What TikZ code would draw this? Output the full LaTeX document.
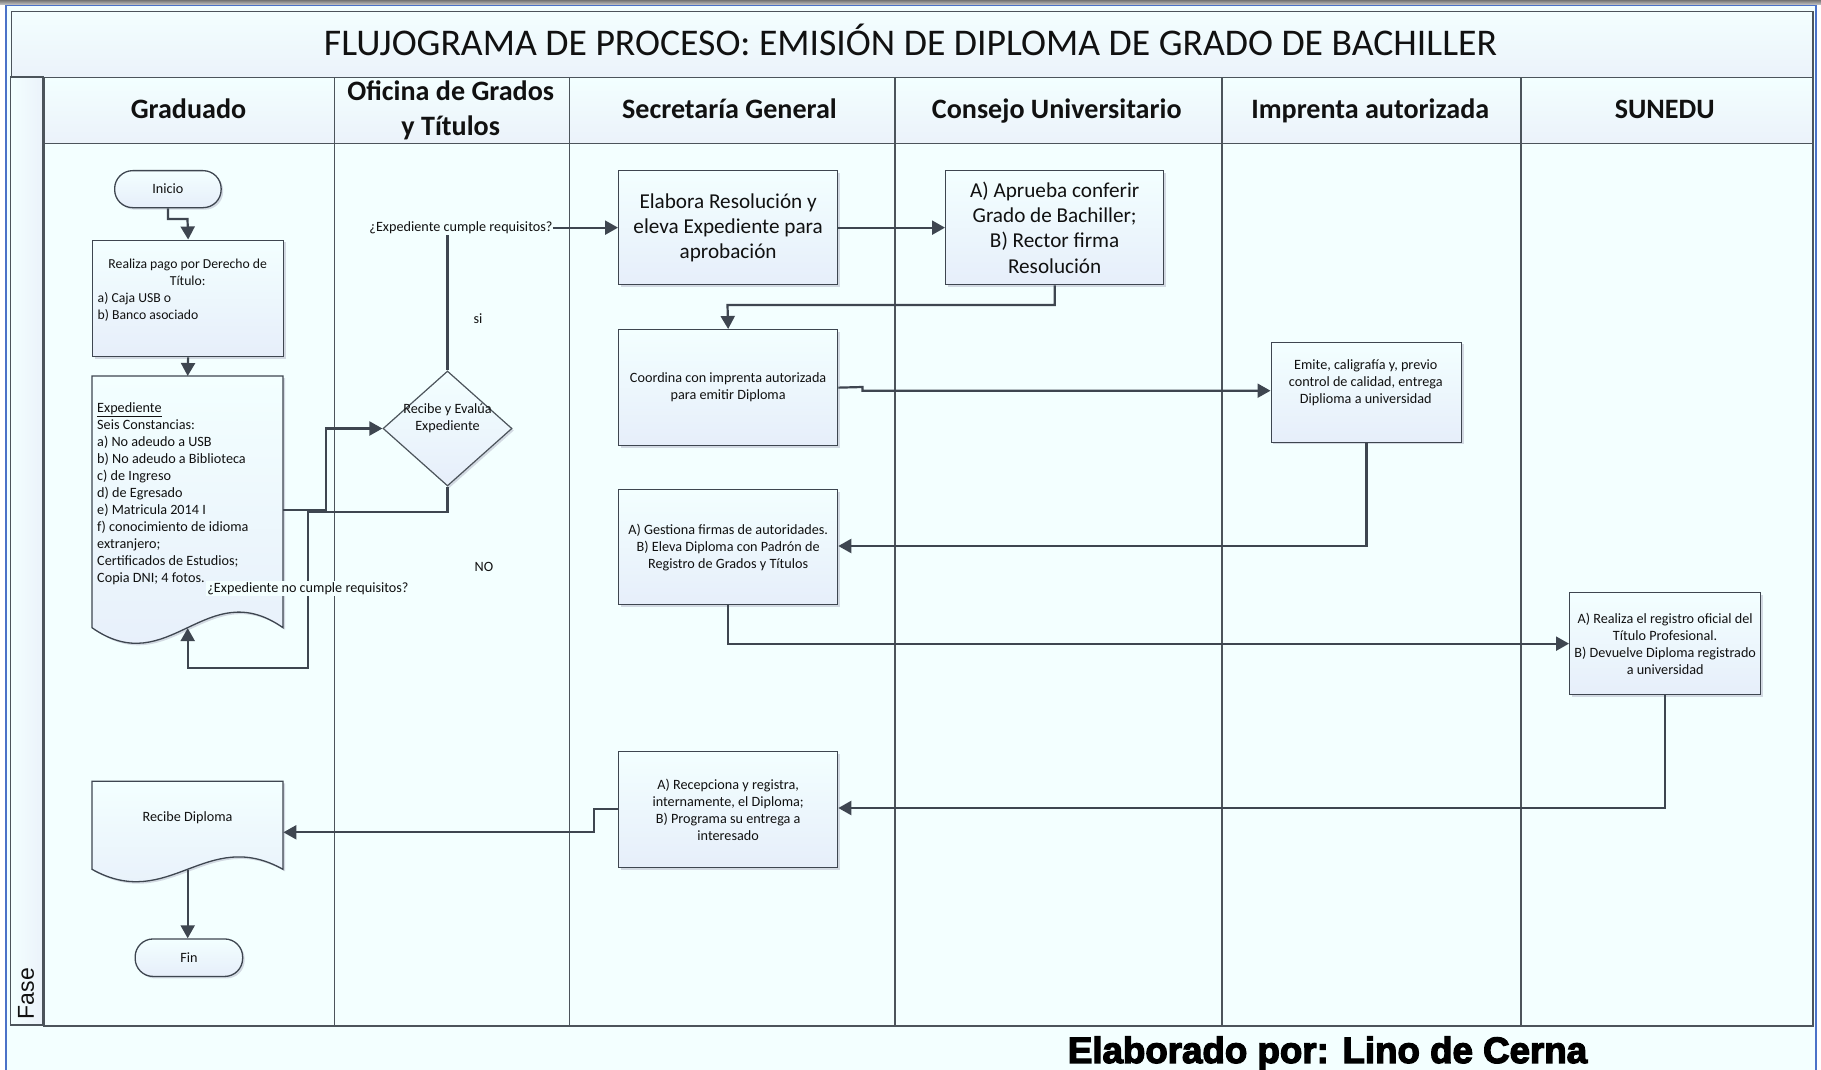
\documentclass[tikz,border=0pt]{standalone}
\usepackage{fontspec}
\setmainfont{Carlito}
\newfontfamily\fasefont{Liberation Sans}
\newfontfamily\footfont[FakeBold=3.5]{Liberation Sans Bold}
\usetikzlibrary{arrows.meta,shapes.geometric,shadows,calc}
\definecolor{bgc}{HTML}{F3FFFF}
\definecolor{boxbot}{HTML}{E6EEFA}
\definecolor{bandbot}{HTML}{EBF2FA}
\definecolor{linec}{HTML}{4C545B}
\definecolor{connc}{HTML}{3E4650}
\definecolor{framec}{HTML}{4A72C8}
\definecolor{shadc}{HTML}{C4CAD6}
\definecolor{txtc}{HTML}{111111}
\tikzset{
  x=1pt,y=-1pt,
  every node/.style={text=txtc,inner sep=0pt},
  band/.style={draw=linec,line width=1.5pt,shade,top color=bgc,middle color=bgc,bottom color=bandbot},
  lanecell/.style={draw=linec,line width=1.5pt,fill=bgc},
  headcell/.style={band,font=\fontsize{28.1}{35}\selectfont\bfseries,align=center,minimum height=66pt,anchor=north west},
  flowbox/.style={draw=connc,line width=1.3pt,shade,top color=bgc,middle color=bgc,bottom color=boxbot,
    drop shadow={shadow xshift=2pt,shadow yshift=-2pt,fill=shadc,opacity=.7},align=center,anchor=north west},
  small/.style={font=\fontsize{14.2}{17}\selectfont,align=center},
  large/.style={font=\fontsize{21.2}{25.3}\selectfont,align=center},
  terminal/.style={flowbox,rounded corners=18pt,small},
  conn/.style={draw=connc,line width=2.2pt,-{Triangle[length=13pt,width=14pt]}},
  connplain/.style={draw=connc,line width=2.2pt},
  docfill/.style={draw=connc,line width=1.3pt,shade,top color=bgc,middle color=bgc,bottom color=boxbot,
    drop shadow={shadow xshift=2pt,shadow yshift=-2pt,fill=shadc,opacity=.7}},
}
\newcommand{\hstrut}{\vphantom{jy}}
\begin{document}
\begin{tikzpicture}
\useasboundingbox (0,0) rectangle (1821,1070);
% page frame
\fill[white] (0,0) rectangle (1821,1070);
\shade[top color=black!55,bottom color=black!20] (0,0) rectangle (1821,5);
\draw[framec,line width=1.6pt,fill=bgc] (6,5.5) -- (1816,5.5) -- (1816,1072) -- (6,1072) -- cycle;
% title band
\node[band,font=\fontsize{37.7}{40}\selectfont,minimum width=1801.5pt,minimum height=66pt,anchor=north west] (title) at (10.5,11) {\raisebox{10pt}{\hspace*{-3pt}FLUJOGRAMA DE PROCESO: EMISIÓN DE DIPLOMA DE GRADO DE BACHILLER}};
% phase strip
\shade[left color=bgc,middle color=bgc,right color=bandbot] (10.5,77) rectangle (43,1025);
\draw[linec,line width=1.5pt] (10.5,77) rectangle (43,1025);
\node[rotate=90,font=\fontsize{23}{25}\selectfont\fasefont,anchor=west] (fase) at (26,1019.5) {Fase};
% lanes
\node[lanecell,minimum width=290.5pt,minimum height=882pt,anchor=north west] (l1) at (43,143) {};
\node[lanecell,minimum width=235pt,minimum height=882pt,anchor=north west] (l2) at (333.5,143) {};
\node[lanecell,minimum width=325.5pt,minimum height=882pt,anchor=north west] (l3) at (568.5,143) {};
\node[lanecell,minimum width=327pt,minimum height=882pt,anchor=north west] (l4) at (894,143) {};
\node[lanecell,minimum width=299pt,minimum height=882pt,anchor=north west] (l5) at (1221,143) {};
\node[lanecell,minimum width=292pt,minimum height=882pt,anchor=north west] (l6) at (1520,143) {};
% headers
\node[headcell,minimum width=290.5pt] (h1) at (43,77) {\hspace*{-1pt}\hstrut Graduado};
\node[headcell,minimum width=235pt] (h2) at (333.5,77) {\hspace*{-2pt}Oficina de Grados\\\hspace*{-2pt}y Títulos};
\node[headcell,minimum width=325.5pt] (h3) at (568.5,77) {\hspace*{-5pt}\hstrut Secretaría General};
\node[headcell,minimum width=327pt] (h4) at (894,77) {\hspace*{-3pt}\hstrut Consejo Universitario};
\node[headcell,minimum width=299pt] (h5) at (1221,77) {\hspace*{-2pt}\hstrut Imprenta autorizada};
\node[headcell,minimum width=292pt] (h6) at (1520,77) {\hspace*{-4pt}\hstrut SUNEDU};
% terminals
\node[terminal,minimum width=106.5pt,minimum height=37pt] (inicio) at (114,170) {Inicio};
\node[terminal,minimum width=107.5pt,minimum height=37.5pt] (fin) at (134.5,938.3) {Fin};
% process boxes
\node[flowbox,minimum width=191pt,minimum height=116.5pt] (realiza) at (92,239.5) {};
\node[font=\fontsize{13.7}{17}\selectfont,text width=182pt,align=flush left,anchor=north west] (realizaT) at (97.5,258.5) {\makebox[180pt]{Realiza pago por Derecho de}\\\makebox[180pt]{Título:}\\a) Caja USB o\\b) Banco asociado};
\node[flowbox,large,minimum width=219pt,minimum height=114pt] (elabora) at (618,170) {Elabora Resolución y\\eleva Expediente para\\aprobación};
\node[flowbox,large,minimum width=218pt,minimum height=114pt] (aprueba) at (945,170) {A) Aprueba conferir\\Grado de Bachiller;\\B) Rector firma\\Resolución};
\node[flowbox,small,minimum width=219pt,minimum height=116pt] (coordina) at (618,329) {Coordina con imprenta autorizada\\para emitir Diploma};
\node[flowbox,minimum width=190.5pt,minimum height=100pt] (emite) at (1270.5,341.7) {};
\node[small] (emiteT) at (1365.75,382.5) {Emite, caligrafía y, previo\\control de calidad, entrega\\Diplioma a universidad};
\node[flowbox,small,minimum width=219pt,minimum height=115pt] (gestiona) at (618,489) {A) Gestiona firmas de autoridades.\\B) Eleva Diploma con Padrón de\\Registro de Grados y Títulos};
\node[flowbox,small,minimum width=191pt,minimum height=102pt] (sunedu) at (1569,592) {A) Realiza el registro oficial del\\Título Profesional.\\B) Devuelve Diploma registrado\\a universidad};
\node[flowbox,small,minimum width=219pt,minimum height=116pt] (recep) at (618,751) {A) Recepciona y registra,\\internamente, el Diploma;\\B) Programa su entrega a\\interesado};
% documents
\path[docfill] (92,376) -- (283,376) -- (283,627.7) .. controls (206,573.7) and (169,681.7) .. (92,627.7) -- cycle;
\node[minimum width=191pt,minimum height=251.7pt,anchor=north west] (exped) at (92,376) {};
\node[small,align=flush left,anchor=north west] (expedT) at (97,402.5) {\underline{Expediente}\\Seis Constancias:\\a) No adeudo a USB\\b) No adeudo a Biblioteca\\c) de Ingreso\\d) de Egresado\\e) Matricula 2014 I\\f) conocimiento de idioma\\extranjero;\\Certificados de Estudios;\\Copia DNI; 4 fotos.};
\path[docfill] (92,781.3) -- (283,781.3) -- (283,869.3) .. controls (206,826.3) and (169,912.3) .. (92,869.3) -- cycle;
\node[minimum width=191pt,minimum height=88pt,anchor=north west] (recibe) at (92,781.3) {};
\node[small] (recibeT) at (187.5,817.7) {Recibe Diploma};
% decision
\node[diamond,draw=linec,line width=1.2pt,shade,top color=bgc,middle color=bgc,bottom color=boxbot,aspect=1.122,minimum width=129pt,minimum height=115pt,drop shadow={shadow xshift=2pt,shadow yshift=-2pt,fill=shadc,opacity=.7}] (dec) at (447.5,428.5) {};
\node[small] (decT) at (447.5,418.7) {Recibe y Evalúa\\Expediente};
% labels on connectors
\node[small,inner ysep=1.5pt] (cumple) at (461,227.5) {¿Expediente cumple requisitos?};
\node[small] (si) at (478,319) {si};
\node[small] (no) at (484,566.7) {NO};
% connector waypoints
\coordinate (w1) at (187.5,219);
\coordinate (w2) at (325.7,510);
\coordinate (w4) at (308,511.7);
\coordinate (w5) at (308,668);
\coordinate (w7) at (727.5,305);
\coordinate (w8) at (862.5,387);
\coordinate (w9) at (862.5,390.7);
\coordinate (w10) at (1365.5,546);
\coordinate (w12) at (1664.5,808);
\coordinate (w13) at (594,809);
\coordinate (w14) at (594,832.3);
% connectors
\draw[conn] (inicio.south) |- (w1) -- (realiza.north);
\draw[conn] (realiza.south) -- (exped.north);
\draw[conn] (exped.east |- w2) -| (w2 |- dec.west) -- (dec.west);
\draw[conn] (dec.south) |- (w4) -- (w5) -| (exped.south);
\draw[connplain] (dec.north) -- (dec.north |- cumple.south);
\draw[conn] (cumple.east |- elabora.west) -- (elabora.west);
\draw[conn] (elabora.east) -- (aprueba.west);
\draw[conn] (aprueba.south) |- (w7) -- (coordina.north);
\draw[conn] (coordina.east) -- (w8) -- (w9) -- (emite.west |- w9);
\draw[conn] (emite.south) |- (gestiona.east |- w10);
\draw[conn] (gestiona.south) |- (sunedu.west);
\draw[conn] (sunedu.south) |- (recep.east |- w12);
\draw[conn] (recep.west |- w13) -- (w13) -- (w14) -- (recibe.east |- w14);
\draw[conn] (recibe.south) -- (recibe.south |- fin.north);
% label over lines
\node[small,fill=bgc,inner xsep=1pt,inner ysep=1pt] (nocumple) at (308,588.5) {¿Expediente no cumple requisitos?};
% footer
\node[font=\fontsize{36.7}{38}\selectfont\footfont,text=black] (autor) at (1327.5,1053.5) {Elaborado por: Lino de Cerna};
\end{tikzpicture}
\end{document}
